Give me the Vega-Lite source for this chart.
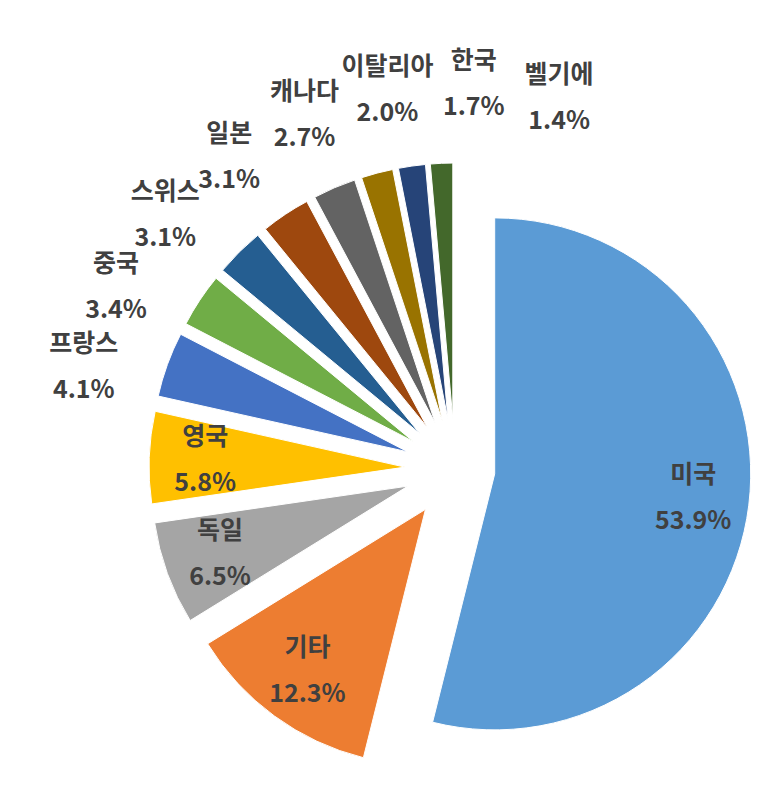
{
  "$schema": "https://vega.github.io/schema/vega-lite/v6.json",
  "autosize": {"type": "none"},
  "width": 600,
  "height": 600,
  "padding": {"left": 155, "top": 169, "right": 22, "bottom": 19},
  "background": "white",
  "data": {
    "values": [
      {"rank": 1, "country": "미국", "share": 0.539},
      {"rank": 2, "country": "기타", "share": 0.123},
      {"rank": 3, "country": "독일", "share": 0.065},
      {"rank": 4, "country": "영국", "share": 0.058},
      {"rank": 5, "country": "프랑스", "share": 0.041},
      {"rank": 6, "country": "중국", "share": 0.034},
      {"rank": 7, "country": "스위스", "share": 0.031},
      {"rank": 8, "country": "일본", "share": 0.031},
      {"rank": 9, "country": "캐나다", "share": 0.027},
      {"rank": 10, "country": "이탈리아", "share": 0.020},
      {"rank": 11, "country": "한국", "share": 0.017},
      {"rank": 12, "country": "벨기에", "share": 0.014}
    ]
  },
  "config": {"view": {"stroke": null}},
  "resolve": {"scale": {"theta": "independent"}},
  "layer": [
    {
      "mark": {
        "type": "arc",
        "outerRadius": 256,
        "stroke": "white",
        "strokeWidth": 1,
        "xOffset": {"expr": "(datum.share > 0.5 ? 40 : 50) * sin(PI * (datum.share_start + datum.share_end))"},
        "yOffset": {"expr": "-(datum.share > 0.5 ? 40 : 50) * cos(PI * (datum.share_start + datum.share_end))"}
      },
      "encoding": {
        "theta": {"field": "share", "type": "quantitative", "stack": true},
        "order": {"field": "rank", "type": "quantitative"},
        "color": {
          "field": "country",
          "type": "nominal",
          "legend": null,
          "scale": {
            "domain": ["미국", "기타", "독일", "영국", "프랑스", "중국", "스위스", "일본", "캐나다", "이탈리아", "한국", "벨기에"],
            "range": ["#5B9BD5", "#ED7D31", "#A5A5A5", "#FFC000", "#4472C4", "#70AD47", "#255E91", "#9E480E", "#636363", "#997300", "#264478", "#43682B"]
          }
        }
      }
    },
    {
      "mark": {
        "type": "text",
        "radius": 200,
        "dy": -23,
        "font": "Noto Sans CJK KR",
        "fontSize": 25,
        "fontWeight": "bold",
        "color": "#404040",
        "xOffset": {"expr": "(datum.share > 0.5 ? 40 : 50) * sin(PI * (datum.share_start + datum.share_end))"},
        "yOffset": {"expr": "-(datum.share > 0.5 ? 40 : 50) * cos(PI * (datum.share_start + datum.share_end))"}
      },
      "encoding": {
        "theta": {"field": "share", "type": "quantitative", "stack": true},
        "order": {"field": "rank", "type": "quantitative"},
        "detail": {"field": "country", "type": "nominal"},
        "text": {"field": "country", "type": "nominal"},
        "opacity": {"condition": {"test": "datum.share >= 0.05", "value": 1}, "value": 0}
      }
    },
    {
      "mark": {
        "type": "text",
        "radius": 200,
        "dy": 23,
        "font": "Noto Sans CJK KR",
        "fontSize": 25,
        "fontWeight": "bold",
        "color": "#404040",
        "xOffset": {"expr": "(datum.share > 0.5 ? 40 : 50) * sin(PI * (datum.share_start + datum.share_end))"},
        "yOffset": {"expr": "-(datum.share > 0.5 ? 40 : 50) * cos(PI * (datum.share_start + datum.share_end))"}
      },
      "encoding": {
        "theta": {"field": "share", "type": "quantitative", "stack": true},
        "order": {"field": "rank", "type": "quantitative"},
        "detail": {"field": "country", "type": "nominal"},
        "text": {"field": "share", "type": "quantitative", "format": ".1%"},
        "opacity": {"condition": {"test": "datum.share >= 0.05", "value": 1}, "value": 0}
      }
    },
    {
      "transform": [{"filter": "datum.share < 0.05"}],
      "mark": {
        "type": "text",
        "radius": 385,
        "dy": -23,
        "font": "Noto Sans CJK KR",
        "fontSize": 25,
        "fontWeight": "bold",
        "color": "#404040"
      },
      "encoding": {
        "theta": {"field": "rank", "type": "quantitative", "scale": {"domain": [5, 12], "range": [4.981, 6.557]}},
        "text": {"field": "country", "type": "nominal"}
      }
    },
    {
      "transform": [{"filter": "datum.share < 0.05"}],
      "mark": {
        "type": "text",
        "radius": 385,
        "dy": 23,
        "font": "Noto Sans CJK KR",
        "fontSize": 25,
        "fontWeight": "bold",
        "color": "#404040"
      },
      "encoding": {
        "theta": {"field": "rank", "type": "quantitative", "scale": {"domain": [5, 12], "range": [4.981, 6.557]}},
        "text": {"field": "share", "type": "quantitative", "format": ".1%"}
      }
    }
  ]
}
